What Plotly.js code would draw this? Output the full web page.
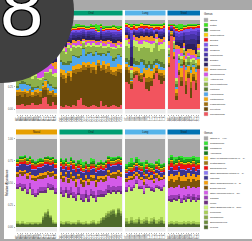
<!DOCTYPE html>
<html><head><meta charset="utf-8">
<script src="https://cdn.plot.ly/plotly-3.0.1.min.js"></script>
<style>html,body{margin:0;padding:0;background:#fff;overflow:hidden}#c{width:252px;height:241px}</style>
</head><body><div id="c"></div><script>
// ---------- categories ----------
const facets = ['Nasal','Oral','Lung','Stool'];
const stripColors = ['#E69F00','#009E73','#56B4E9','#0072B2'];
const labelsNasal = ['N01','N02','N03','N04','N05','N06','N07','N08','N09','N10','N11','N12','N13','N14','N15','N16'];
const labelsOral = ['O01','O02','O03','O04','O05','O06','O07','O08','O09','O10','O11','O12','O13','O14','O15','O16','O17','O18','O19','O20','O21','O22','O23','O24','O25'];
const labelsLung = ['L01','L02','L03','L04','L05','L06','L07','L08','L09','L10','L11','L12','L13','L14','L15','L16'];
const labelsStool = ['S01','S02','S03','S04','S05','S06','S07','S08','S09','S10','S11','S12','S13'];
const yTickVals = [0,25,50,75,100];
const yTickText = ['0.00','0.25','0.50','0.75','1.00'];

// bacterial genera, stack order bottom -> top
const bacGenus = ['Pseudomonas','Prevotella','Fusobacterium','Lactobacillus','Haemophilus','Lautropia','Corynebacterium','Actinomyces','Streptococcus','Staphylococcus','Veillonella','Dialister','Micrococcus','Neisseria','Bacillus','Serratia','Granulicatella','Moraxella','Rothia','Others'];
const bacColors = ['#F2545E','#6B4A0C','#A06E0E','#F2A60E','#4FA6EC','#5A7A34','#8DB14A','#C8EE66','#D350E6','#F39820','#2B1F5C','#362A7E','#4633A6','#5B3DCA','#7C56EC','#EE1414','#F6CE06','#1F8A22','#3CE21C','#A6A6A6'];
// fungal genera, stack order bottom -> top
const funGenus = ['Mycena','Sporobolomyces','Trichosporon','Penicillium','Other Basidiomycota (n = 377)','Mucor','Candida','Other Mucoromycota (n = 59)','Debaryomyces','Other Cladosporiaceae (n = 3)','Wallemia','Other Saccharomycetales (n = 1)','Saccharomyces','Cystobasidium','Other Mycosphaerellaceae (n = 1)','Aspergillus','Malassezia','Cladosporium','Others (n = 446)'];
const funColors = ['#4E6A2B','#6A8A3A','#88A948','#A7CE55','#C9F273','#6A2B7E','#9A3DB4','#D35BE8','#7D530A','#F59D0A','#3B348D','#8A78F2','#EE1111','#9C7614','#F2C600','#157818','#209E22','#34E234','#A7A7A7'];

// ---------- values (percent), rows follow genus order ----------
const bacNasal = [
[5,4,6,3,5,4,7,5,4,6,12,14,6,3,8,4],
[10,12,8,14,9,11,6,10,12,8,9,7,10,13,6,9],
[4,3,5,2,4,6,3,4,2,5,3,4,5,2,6,3],
[2,3,1,4,2,1,3,2,5,1,2,6,3,2,1,2],
[3,6,8,5,7,4,2,3,1,2,1,2,4,6,3,5],
[2,1,3,2,1,2,4,1,2,1,2,1,3,2,1,2],
[14,12,10,15,11,13,9,12,8,10,6,7,9,14,12,11],
[3,2,4,1,3,2,5,2,1,2,1,1,2,3,2,4],
[6,8,5,4,10,7,12,9,22,25,20,18,24,6,9,5],
[5,4,8,6,3,7,4,9,3,4,6,10,5,7,4,8],
[4,3,2,5,4,3,6,2,3,2,4,3,2,4,5,3],
[3,4,5,2,3,4,2,6,2,3,2,3,2,4,3,5],
[4,5,3,6,4,3,5,4,2,3,2,2,3,5,4,3],
[5,4,6,3,5,6,4,5,3,2,3,2,3,4,6,5],
[4,3,5,4,3,2,4,3,2,3,2,2,2,3,4,3],
[2,3,2,1,2,3,2,1,2,1,2,1,2,2,1,3],
[3,2,4,3,2,3,2,3,2,3,2,2,2,3,2,2],
[4,5,3,6,4,5,3,4,3,2,3,2,3,4,5,3],
[3,2,4,2,3,2,3,2,4,2,3,2,2,3,2,4],
[14,14,8,12,15,12,14,13,17,15,15,11,8,10,16,16]];
const bacOral = [
[3,2,4,3,2,5,3,10,12,4,3,2,3,4,3,2,9,3,4,2,3,5,3,2,4],
[33,32,25,34,29,35,36,32,30,40,41,44,38,40,36,46,34,41,37,40,36,33,34,40,36],
[5,4,6,3,5,4,6,3,4,5,3,4,6,3,5,4,3,5,4,6,5,4,6,3,5],
[4,6,5,3,7,4,5,6,3,4,5,3,4,6,5,3,4,5,6,4,3,5,4,6,5],
[8,6,10,7,9,12,8,6,10,14,8,9,12,7,15,6,10,8,9,11,12,7,9,10,8],
[2,3,2,4,2,1,2,3,2,1,2,2,1,2,1,2,3,1,2,2,1,3,2,1,2],
[14,12,10,15,11,9,8,10,7,6,8,7,6,9,5,7,8,6,7,5,8,10,9,7,8],
[3,4,2,3,4,2,3,2,3,2,2,3,2,3,2,2,3,2,2,3,2,3,2,3,2],
[3,2,4,2,3,2,3,4,2,2,3,2,4,2,2,3,2,3,2,2,4,3,2,2,3],
[2,3,2,1,2,3,2,2,3,1,2,2,1,2,2,1,2,2,3,2,2,1,3,2,2],
[3,4,5,3,4,3,4,3,4,3,3,4,3,3,3,3,4,3,4,3,4,5,4,3,4],
[2,3,2,3,2,3,2,2,3,2,2,2,3,2,2,2,2,3,2,2,3,2,3,2,3],
[3,2,4,3,3,2,3,2,2,3,2,2,3,2,3,2,2,2,3,3,2,3,2,3,2],
[3,4,3,2,3,2,3,2,3,2,3,2,2,3,2,2,3,2,2,3,2,3,3,2,3],
[2,2,3,2,2,2,1,2,2,1,2,1,2,2,2,1,2,2,2,1,2,2,3,2,2],
[1,1,2,1,1,1,1,2,1,1,1,1,1,1,1,1,1,1,1,1,1,1,1,1,1],
[1,2,1,1,2,1,1,1,1,1,1,1,1,1,1,1,1,1,1,1,1,2,1,1,1],
[2,1,2,1,1,1,1,1,1,1,1,1,1,1,1,1,1,1,1,1,1,1,1,1,1],
[1,2,1,1,2,1,3,2,1,1,1,1,2,1,4,5,1,2,1,1,1,1,1,2,1],
[5,5,7,8,6,7,5,5,6,6,7,7,5,6,5,6,5,7,7,7,7,6,7,7,7]];
const bacLung = [
[30,28,22,35,38,32,30,36,22,20,26,34,40,33,28,31],
[14,12,6,4,3,5,4,3,8,10,6,4,3,5,9,4],
[3,4,2,3,2,3,4,2,5,6,3,2,3,2,4,3],
[4,3,2,5,4,6,3,5,9,10,8,6,4,5,3,6],
[2,3,1,4,2,3,12,3,2,4,2,3,2,6,3,2],
[4,5,2,6,5,4,3,6,5,4,6,5,4,3,6,5],
[14,13,6,14,16,12,12,15,17,15,13,14,18,11,14,16],
[6,5,3,7,6,8,5,6,7,5,9,6,5,7,6,8],
[3,2,2,3,2,3,4,2,3,2,3,2,2,3,2,3],
[3,4,2,2,3,4,5,3,4,5,6,4,3,5,4,3],
[2,3,10,2,2,3,2,2,3,2,2,2,2,2,3,2],
[2,2,12,1,2,2,2,2,2,2,2,2,1,2,2,2],
[2,3,8,2,1,2,2,1,2,2,2,1,1,2,2,2],
[2,2,7,1,2,2,2,2,1,2,2,2,1,2,2,3],
[1,2,4,1,1,2,1,2,1,1,1,2,1,1,2,1],
[2,1,2,3,2,1,2,3,2,2,1,2,2,3,1,2],
[1,2,1,1,2,1,2,1,1,2,1,2,1,1,2,1],
[1,1,1,1,1,1,1,1,1,1,1,1,1,1,1,1],
[1,1,2,1,1,2,1,1,1,1,2,1,1,2,1,2],
[3,4,5,4,5,4,3,4,4,4,4,5,5,4,5,3]];
const bacStool = [
[47,82,56,10,38,26,50,17,35,12,31,21,45],
[3,1,2,5,4,6,3,10,4,12,5,8,3],
[2,1,2,3,2,4,2,5,3,6,3,4,2],
[6,1,4,5,8,10,5,12,6,10,8,9,6],
[2,0,3,2,3,2,1,3,2,4,2,3,2],
[2,0,2,3,2,3,2,2,3,3,2,2,2],
[4,1,5,4,3,5,3,4,5,6,4,5,4],
[3,0,2,3,2,3,2,3,2,3,2,3,2],
[3,1,2,32,5,4,3,4,3,5,4,3,3],
[4,1,3,5,4,6,3,5,4,6,5,4,4],
[3,1,2,3,4,5,4,7,6,6,7,8,5],
[3,1,2,3,3,4,4,6,5,6,6,7,4],
[3,1,2,4,3,4,3,5,5,5,5,6,4],
[2,1,2,3,3,3,2,4,4,4,4,5,3],
[2,1,1,3,2,3,2,3,3,3,2,3,2],
[3,1,2,2,2,1,2,1,2,1,2,1,2],
[1,0,1,1,1,1,1,1,1,1,1,1,1],
[1,0,1,1,1,1,1,1,1,1,1,1,1],
[1,1,1,2,6,4,1,1,1,1,1,1,1],
[5,5,5,6,4,5,6,6,5,5,5,5,4]];

const funNasal = [
[3,2,3,2,2,3,2,3,2,3,8,12,14,10,4,3],
[1,1,1,1,1,1,1,1,1,1,2,3,3,2,1,1],
[1,1,1,1,1,1,1,1,1,1,1,1,1,1,1,1],
[2,1,2,1,2,1,2,1,2,1,2,1,2,1,2,1],
[36,40,34,38,32,37,30,28,30,33,26,22,24,28,34,32],
[2,2,3,2,2,3,2,2,3,2,2,3,2,2,3,2],
[4,3,5,4,3,4,5,3,4,5,4,3,4,5,3,4],
[8,10,9,11,12,9,10,13,11,9,10,11,9,8,10,11],
[3,2,4,3,3,2,3,4,3,3,4,3,3,4,3,3],
[2,3,2,2,3,2,3,2,2,3,2,3,2,2,3,2],
[6,5,7,6,8,7,6,7,8,6,7,8,7,6,7,6],
[1,1,1,1,1,1,1,1,1,1,1,1,1,1,1,1],
[2,3,2,3,2,3,4,3,2,3,2,3,2,3,2,3],
[2,2,2,2,2,2,2,2,2,2,2,2,2,2,2,2],
[1,1,1,1,1,1,1,1,1,1,1,1,1,1,1,1],
[1,1,1,1,1,1,1,1,1,1,1,1,1,1,1,1],
[1,2,1,2,1,1,2,1,1,2,1,1,2,1,1,2],
[1,1,2,1,1,2,1,1,2,1,1,1,1,2,1,1],
[23,19,19,18,22,19,23,25,23,22,23,20,19,20,20,23]];
const funOral = [
[3,2,4,3,2,3,2,4,3,2,3,2,3,4,2,3,5,8,10,12,14,15,12,16,13],
[1,1,1,1,1,1,1,1,1,1,1,1,1,1,1,1,2,2,3,3,3,3,2,3,2],
[1,1,1,1,1,1,1,1,1,1,1,1,1,1,1,1,1,1,1,1,1,1,1,1,1],
[2,2,1,2,2,1,2,2,1,2,2,1,2,2,1,2,2,1,2,2,1,2,1,2,2],
[30,28,32,26,30,27,24,28,25,22,26,24,28,25,23,27,24,22,20,21,18,19,22,18,20],
[3,2,3,4,3,2,3,3,2,3,4,3,2,3,3,2,3,3,2,3,3,2,3,2,3],
[5,6,4,5,6,5,4,6,5,6,5,4,6,5,5,6,5,4,5,6,5,5,4,5,6],
[10,9,11,8,10,12,9,10,11,9,10,12,9,11,10,9,11,10,9,10,11,9,10,11,10],
[4,5,3,4,5,4,5,3,4,5,4,3,5,4,5,4,3,4,5,4,3,4,5,4,3],
[3,2,3,2,3,2,3,2,3,2,3,4,2,3,2,3,2,3,2,3,2,3,2,3,2],
[6,7,5,8,6,7,8,6,7,8,6,7,6,7,8,6,7,6,7,6,7,6,7,6,7],
[1,1,1,1,1,1,1,1,1,1,1,1,1,1,1,1,1,1,1,1,1,1,1,1,1],
[2,3,2,3,2,4,3,2,3,2,3,2,3,2,3,2,3,2,3,2,3,2,3,2,3],
[2,2,2,2,2,2,2,2,2,2,2,2,2,2,2,2,2,2,2,2,2,2,2,2,2],
[1,1,1,1,1,1,1,1,1,1,1,1,1,1,1,1,1,1,1,1,1,1,1,1,1],
[1,1,1,1,1,1,1,1,1,1,1,1,1,1,1,1,1,1,1,1,1,1,1,1,1],
[2,1,2,1,2,1,2,2,1,2,1,2,1,2,1,2,1,2,1,2,1,2,1,2,1],
[1,2,1,1,2,1,1,1,5,4,1,1,4,2,1,1,2,1,1,1,2,1,1,1,1],
[22,24,22,26,20,24,27,24,23,26,25,28,22,23,29,26,24,26,24,19,21,21,21,19,21]];
const funLung = [
[4,3,5,3,4,6,3,4,5,3,4,6,3,4,5,3],
[2,1,2,2,1,2,1,2,2,1,2,2,1,2,2,1],
[1,1,1,1,1,1,1,1,1,1,1,1,1,1,1,1],
[3,2,3,2,3,2,3,2,3,2,3,2,3,2,3,2],
[30,38,30,36,40,32,35,28,33,37,31,29,36,34,30,38],
[2,1,2,2,1,2,1,2,2,1,2,2,1,2,2,1],
[3,2,3,2,3,2,3,2,3,2,3,2,3,2,3,2],
[6,5,7,6,5,8,6,7,5,6,7,6,8,5,7,6],
[3,2,3,4,2,3,2,3,4,2,3,2,3,4,2,3],
[2,3,2,2,3,2,2,3,2,2,3,2,2,3,2,2],
[4,5,4,3,5,4,6,4,5,4,3,5,4,5,4,3],
[1,1,1,1,1,1,1,1,1,1,1,1,1,1,1,1],
[2,1,2,3,1,2,2,1,2,3,1,2,2,1,2,2],
[2,2,2,2,2,2,2,2,2,2,2,2,2,2,2,2],
[1,1,1,1,1,1,1,1,1,1,1,1,1,1,1,1],
[1,1,1,1,1,1,1,1,1,1,1,1,1,1,1,1],
[2,3,4,2,3,2,3,4,2,3,2,4,2,3,2,3],
[3,2,5,1,2,4,1,6,2,1,3,2,1,4,2,1],
[28,26,22,26,21,23,26,26,24,27,27,28,25,23,28,27]];
const funStool = [
[2,3,2,3,2,2,3,2,3,2,3,2,2],
[1,1,1,1,1,1,1,1,1,1,1,1,1],
[1,1,1,1,1,1,1,1,1,1,1,1,1],
[2,2,2,2,2,2,2,2,2,2,2,2,2],
[24,22,25,23,26,21,24,22,25,23,24,22,25],
[2,3,2,2,3,2,2,3,2,2,3,2,2],
[3,4,3,4,3,4,3,4,3,4,3,4,3],
[9,10,8,9,10,11,9,8,10,9,8,10,9],
[8,9,7,8,9,8,7,9,8,7,9,8,8],
[6,5,7,6,5,6,7,5,6,7,6,5,6],
[6,7,6,5,6,7,6,7,5,6,7,6,6],
[1,1,1,1,1,1,1,1,1,1,1,1,1],
[4,5,4,5,4,5,4,5,4,5,4,5,4],
[2,2,2,2,2,2,2,2,2,2,2,2,2],
[1,1,1,1,1,1,1,1,1,1,1,1,1],
[1,1,1,1,1,1,1,1,1,1,1,1,1],
[2,3,2,3,2,3,2,3,2,3,2,3,2],
[3,2,4,3,2,3,4,2,3,2,3,4,3],
[22,18,21,20,19,19,20,21,20,21,19,20,21]];

// ---------- layout helpers ----------
const W = 252, H = 241;
const px = v => v / W;
const py = v => 1 - v / H;
const FONT = 'Liberation Sans, Arial, sans-serif';
const colPx = [[16,57],[59.5,122.5],[125,165.5],[167.5,200]];
const labelSets = [labelsNasal, labelsOral, labelsLung, labelsStool];
const rows = [
  {mats:[bacNasal,bacOral,bacLung,bacStool], genus:bacGenus, colors:bacColors, y:'y', yPx:[15.5,113.5], strip:[10.5,15.5], title:[20,109], leg:{t:14, first:20, step:4.947}},
  {mats:[funNasal,funOral,funLung,funStool], genus:funGenus, colors:funColors, y:'y2', yPx:[134.5,231.5], strip:[129.5,134.5], title:[139,227], leg:{t:132.7, first:138.3, step:4.94}}
];

const traces = [];
const shapes = [];
const annotations = [];
const layout = {
  width: W, height: H, margin:{l:0,r:0,t:0,b:0},
  paper_bgcolor:'#FFFFFF', plot_bgcolor:'#EBEBEB',
  barmode:'stack', bargap:0, showlegend:false,
  font:{family:FONT, size:3, color:'#4D4D4D'}
};

// frame bands
shapes.push({type:'rect',xref:'paper',yref:'paper',x0:0,x1:1,y0:py(10),y1:1,fillcolor:'#A9A9A9',line:{width:0},layer:'above'});
shapes.push({type:'rect',xref:'paper',yref:'paper',x0:0,x1:px(4),y0:0,y1:1,fillcolor:'#A9A9A9',line:{width:0},layer:'above'});
shapes.push({type:'rect',xref:'paper',yref:'paper',x0:0,x1:1,y0:0,y1:py(239),fillcolor:'#A9A9A9',line:{width:0},layer:'above'});

rows.forEach((row, r) => {
  const yKey = r === 0 ? 'yaxis' : 'yaxis2';
  layout[yKey] = {
    domain:[py(row.yPx[1]), py(row.yPx[0])], anchor: r === 0 ? 'x' : 'x5',
    range:[-5,105], tickmode:'array', tickvals:yTickVals, ticktext:yTickText,
    ticks:'outside', ticklen:1.5, tickwidth:0.4, tickcolor:'#333333',
    tickfont:{size:2.6, color:'#4D4D4D'}, showgrid:false, zeroline:false, showline:false, fixedrange:true
  };
  for (let f = 0; f < 4; f++) {
    const idx = r*4 + f + 1;
    const xName = 'x' + (idx === 1 ? '' : idx);
    const axKey = 'xaxis' + (idx === 1 ? '' : idx);
    const labs = labelSets[f];
    layout[axKey] = {
      domain:[px(colPx[f][0]), px(colPx[f][1])], anchor: row.y, type:'category',
      range:[-0.6, labs.length - 0.4], tickmode:'array', tickvals:labs, ticktext:labs,
      tickangle:-90, tickfont:{size:2.6, color:'#4D4D4D'}, ticks:'outside', ticklen:1,
      tickwidth:0.4, tickcolor:'#333333', showgrid:false, zeroline:false, showline:false, fixedrange:true
    };
    row.mats[f].forEach((vals, g) => {
      traces.push({type:'bar', x:labs, y:vals, xaxis:xName, yaxis:row.y, name:row.genus[g],
        marker:{color:row.colors[g], line:{width:0}}, hoverinfo:'skip', showlegend:false});
    });
    // facet strip
    shapes.push({type:'rect',xref:'paper',yref:'paper',x0:px(colPx[f][0]),x1:px(colPx[f][1]),
      y0:py(row.strip[1]),y1:py(row.strip[0]),fillcolor:stripColors[f],line:{width:0},layer:'above',
      label:{text:facets[f],font:{size:2.8,color:'#1A1A1A',family:FONT},textposition:'middle center'}});
  }
  // y axis title
  shapes.push({type:'rect',xref:'paper',yref:'paper',x0:px(4.5),x1:px(8.5),y0:py(row.title[1]),y1:py(row.title[0]),
    fillcolor:'rgba(0,0,0,0)',line:{width:0},layer:'above',
    label:{text:'Relative Abundance',textangle:-90,font:{size:3,color:'#1A1A1A',family:FONT},textposition:'middle center'}});
  // legend
  annotations.push({xref:'paper',yref:'paper',x:px(204),y:py(row.leg.t),text:'Genus',showarrow:false,
    xanchor:'left',yanchor:'middle',borderpad:0,borderwidth:0,font:{size:2.9,color:'#1A1A1A',family:FONT}});
  const n = row.genus.length;
  for (let k = 0; k < n; k++) {
    const g = n - 1 - k;
    const cy = row.leg.first + row.leg.step * k;
    shapes.push({type:'rect',xref:'paper',yref:'paper',x0:px(204),x1:px(208),y0:py(cy+1.9),y1:py(cy-1.9),
      fillcolor:row.colors[g],line:{color:'#C8C8C8',width:0.4},layer:'above'});
    annotations.push({xref:'paper',yref:'paper',x:px(209.5),y:py(cy),text:row.genus[g],showarrow:false,
      xanchor:'left',yanchor:'middle',borderpad:0,borderwidth:0,font:{size:2.3,color:'#1A1A1A',family:FONT}});
  }
});

// panel-number disc
shapes.push({type:'circle',xref:'paper',yref:'paper',x0:px(-70),x1:px(74),y0:py(83),y1:py(-61),
  fillcolor:'#404040',line:{width:0},layer:'above'});
annotations.push({xref:'paper',yref:'paper',x:px(21),y:py(8),text:'8',showarrow:false,xanchor:'center',yanchor:'middle',
  borderpad:0,borderwidth:0,font:{size:78,color:'#FFFFFF',family:FONT,
  shadow:'1px 1px 0 #000, -1px -1px 0 #000, 1px -1px 0 #000, -1px 1px 0 #000'}});

layout.shapes = shapes;
layout.annotations = annotations;
Plotly.newPlot('c', traces, layout, {staticPlot:true, displayModeBar:false});
</script></body></html>
